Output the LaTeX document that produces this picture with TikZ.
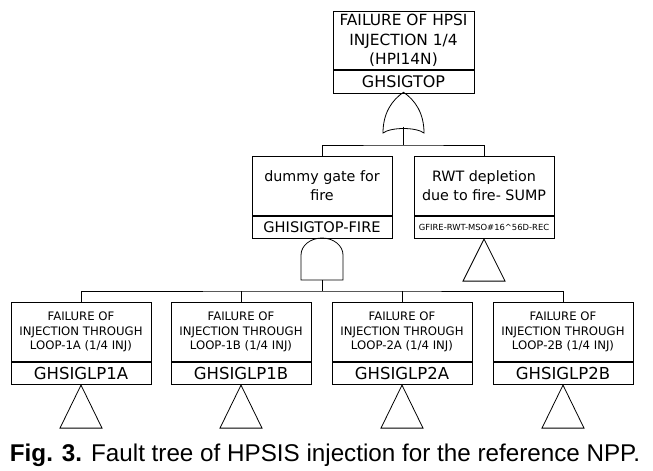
\documentclass[tikz,border=0pt]{standalone}
\usepackage{fontspec}
\setmainfont{DejaVu Sans}
\newfontfamily\capfont{Liberation Sans}
\begin{document}
\begin{tikzpicture}[x=1pt,y=-1pt,line width=0.8pt,
  desc/.style={draw,rectangle,minimum width=140pt,inner sep=0pt,align=center,anchor=north},
  code/.style={draw,rectangle,minimum width=140pt,minimum height=22.5pt,inner sep=0pt,anchor=north},
  topfont/.style={font=\fontsize{15.4}{19.5}\selectfont},
  midfont/.style={font=\fontsize{14.3}{19}\selectfont},
  lowfont/.style={font=\fontsize{11.7}{14.5}\selectfont},
  bigcode/.style={font=\fontsize{16}{18}\selectfont},
  midcode/.style={font=\fontsize{14.6}{17}\selectfont},
  lowcode/.style={font=\fontsize{16.5}{18}\selectfont},
  tinycode/.style={font=\fontsize{8.4}{10}\selectfont},
  gate/.style={draw,line width=0.8pt}]
\useasboundingbox (0,0) rectangle (653,471);

% top event
\node[desc,topfont,minimum width=141pt,minimum height=58.5pt] (top) at (403.5,10.8) {FAILURE OF HPSI\\INJECTION 1/4\\(HPI14N)};
\node[code,bigcode,minimum width=141pt] (topc) at (top.south) {GHSIGTOP};

% OR gate
\coordinate (orT) at (403.5,92.3);
\coordinate (orS) at (403.5,126.5);
\draw[gate] (383,133) .. controls (383,113) and (392,100) .. (orT)
  .. controls (415,100) and (424,113) .. (424,133)
  .. controls (416,127) and (391,127) .. (383,133) -- cycle;
\coordinate (bus1) at (403.5,145);
\draw (orS) -- (bus1);

% middle level
\node[desc,midfont,minimum height=59pt] (m1) at (322,156) {dummy gate for\\fire};
\node[code,midcode] (m1c) at (m1.south) {GHISIGTOP-FIRE};
\node[desc,midfont,minimum height=59pt] (m2) at (484,156) {RWT depletion\\due to fire- SUMP};
\node[code,tinycode] (m2c) at (m2.south) {GFIRE-RWT-MSO\#16\^{}56D-REC};
\draw (m1.north) |- (bus1) -| (m2.north);

% triangle under m2
\draw (m2c.south) -- ++(-21,42) -- ++(42,0) -- cycle;

% AND gate
\draw[gate] (301,280) -- (301,255) arc[start angle=180,end angle=0,x radius=21pt,y radius=17pt] -- (343,280) -- cycle;
\coordinate (andS) at (322,280);
\coordinate (bus2) at (322,291);
\draw (andS) -- (bus2);

% bottom level
\node[desc,lowfont,minimum height=59pt] (b1) at (81,302) {FAILURE OF\\INJECTION THROUGH\\LOOP-1A (1/4 INJ)};
\node[code,lowcode] (b1c) at (b1.south) {GHSIGLP1A};
\node[desc,lowfont,minimum height=59pt] (b2) at (241,302) {FAILURE OF\\INJECTION THROUGH\\LOOP-1B (1/4 INJ)};
\node[code,lowcode] (b2c) at (b2.south) {GHSIGLP1B};
\node[desc,lowfont,minimum height=59pt] (b3) at (402,302) {FAILURE OF\\INJECTION THROUGH\\LOOP-2A (1/4 INJ)};
\node[code,lowcode] (b3c) at (b3.south) {GHSIGLP2A};
\node[desc,lowfont,minimum height=59pt] (b4) at (563,302) {FAILURE OF\\INJECTION THROUGH\\LOOP-2B (1/4 INJ)};
\node[code,lowcode] (b4c) at (b4.south) {GHSIGLP2B};

\draw (b1.north) |- (bus2) -| (b4.north);
\draw (b2.north) -- (b2.north |- bus2);
\draw (b3.north) -- (b3.north |- bus2);

\foreach \n in {b1c,b2c,b3c,b4c}
  \draw (\n.south) -- ++(-21,43) -- ++(42,0) -- cycle;

% caption
\node (cap) at (325,455) {\resizebox{630pt}{!}{\capfont\textbf{Fig. 3.} Fault tree of HPSIS injection for the reference NPP.}};
\end{tikzpicture}
\end{document}
